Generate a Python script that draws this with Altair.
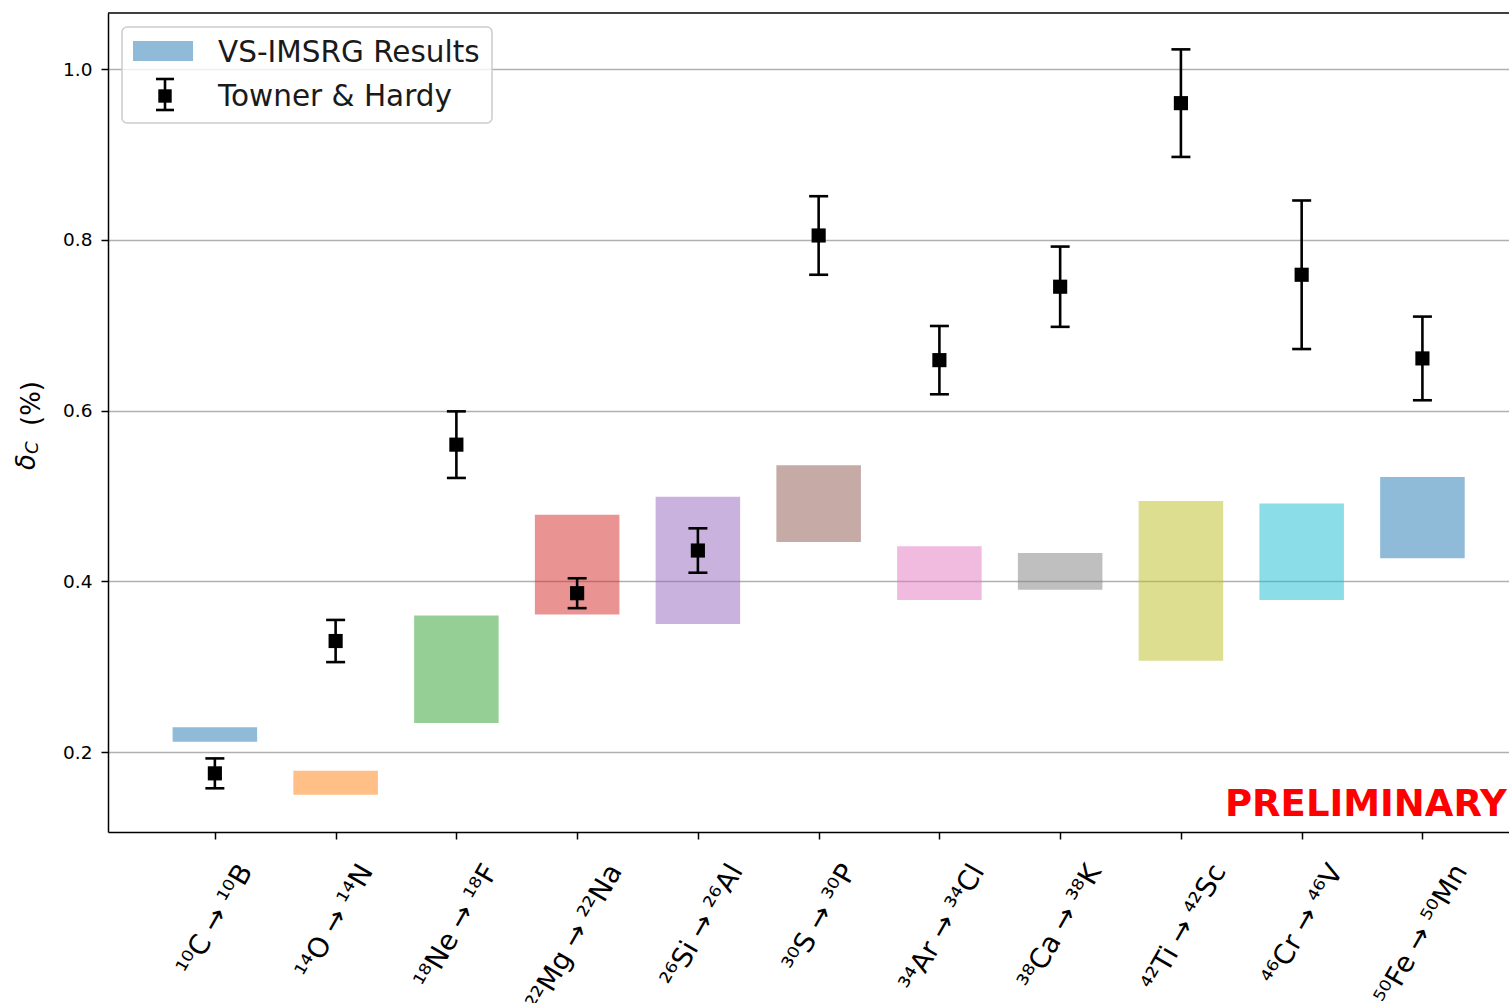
import altair as alt
import pandas as pd

# ---------------- data ----------------
labels = ["¹⁰C → ¹⁰B", "¹⁴O → ¹⁴N", "¹⁸Ne → ¹⁸F", "²²Mg → ²²Na", "²⁶Si → ²⁶Al",
          "³⁰S → ³⁰P", "³⁴Ar → ³⁴Cl", "³⁸Ca → ³⁸K", "⁴²Ti → ⁴²Sc", "⁴⁶Cr → ⁴⁶V",
          "⁵⁰Fe → ⁵⁰Mn"]
imsrg_low = [0.212, 0.150, 0.234, 0.361, 0.350, 0.446, 0.378, 0.390, 0.307, 0.378, 0.427]
imsrg_high = [0.229, 0.178, 0.360, 0.478, 0.499, 0.536, 0.441, 0.433, 0.494, 0.491, 0.522]
th_value = [0.175, 0.330, 0.560, 0.386, 0.436, 0.805, 0.659, 0.745, 0.960, 0.759, 0.661]
th_err = [0.0175, 0.0247, 0.039, 0.0175, 0.026, 0.046, 0.040, 0.047, 0.063, 0.087, 0.049]
colors = ["#1f77b4", "#ff7f0e", "#2ca02c", "#d62728", "#9467bd", "#8c564b",
          "#e377c2", "#7f7f7f", "#bcbd22", "#17becf", "#1f77b4"]
y_ticks = [0.2, 0.4, 0.6, 0.8, 1.0]
legend_labels = ["VS-IMSRG Results", "Towner & Hardy"]
y_title = ["δ", "C", "(%)"]
stamp = "PRELIMINARY"

df = pd.DataFrame({
    "idx": list(range(len(labels))),
    "label": labels,
    "lo": imsrg_low,
    "hi": imsrg_high,
    "val": th_value,
    "err": th_err,
})

W, H = 1401, 819
FONT = "DejaVu Sans"

x_scale = alt.Scale(domain=[-0.885, 10.717], nice=False, zero=False)
y_scale = alt.Scale(domain=[0.1063, 1.0656], nice=False, zero=False)

x_axis = alt.Axis(values=list(range(len(labels))), labels=False, ticks=True, tickSize=7,
                  tickWidth=1.5, tickColor="black", domainColor="black", domainWidth=1.5,
                  grid=False, title=None)
y_axis = alt.Axis(values=y_ticks, format=".1f", labelFont=FONT, labelFontSize=18.5,
                  labelColor="black", labelPadding=9, tickSize=7, tickWidth=1.5,
                  tickColor="black", domainColor="black", domainWidth=1.5, grid=True,
                  gridColor="#b0b0b0", gridWidth=1.5, title=None)

base = alt.Chart(df)

bars = base.mark_rect(opacity=0.5).transform_calculate(
    x0="datum.idx - 0.35", x1="datum.idx + 0.35"
).encode(
    x=alt.X("x0:Q", scale=x_scale, axis=x_axis),
    x2="x1:Q",
    y=alt.Y("lo:Q", scale=y_scale, axis=y_axis),
    y2="hi:Q",
    color=alt.Color("label:N", scale=alt.Scale(domain=labels, range=colors), legend=None),
)

eb = base.transform_calculate(
    elo="datum.val - datum.err", ehi="datum.val + datum.err"
)
err_rule = eb.mark_rule(color="black", strokeWidth=2.6).encode(
    x=alt.X("idx:Q", scale=x_scale, axis=x_axis),
    y=alt.Y("elo:Q", scale=y_scale, axis=y_axis),
    y2="ehi:Q",
)
cap_lo = eb.mark_tick(color="black", orient="horizontal", size=19, thickness=2.6, opacity=1).encode(
    x=alt.X("idx:Q", scale=x_scale, axis=x_axis),
    y=alt.Y("elo:Q", scale=y_scale, axis=y_axis),
)
cap_hi = eb.mark_tick(color="black", orient="horizontal", size=19, thickness=2.6, opacity=1).encode(
    x=alt.X("idx:Q", scale=x_scale, axis=x_axis),
    y=alt.Y("ehi:Q", scale=y_scale, axis=y_axis),
)
points = base.mark_square(color="black", size=200, opacity=1).encode(
    x=alt.X("idx:Q", scale=x_scale, axis=x_axis),
    y=alt.Y("val:Q", scale=y_scale, axis=y_axis),
)

# rotated x tick labels (matplotlib-like centred rotated labels)
xlabels = base.mark_text(angle=300, align="right", baseline="middle", fontSize=27.5,
                         font=FONT, color="black").transform_calculate(
    xl="datum.idx + (3.7*length(datum.label) - 2)/120.75"
).encode(
    x=alt.X("xl:Q", scale=x_scale, axis=x_axis),
    y=alt.value(H + 35),
    text="label:N",
)

one = alt.Chart(pd.DataFrame({"a": [0]}))

top_spine = one.mark_rule(color="black", strokeWidth=1.5).encode(
    x=alt.value(0), x2=alt.value(W), y=alt.value(0)
)

# y title: delta_C (%)
yt_delta = alt.Chart(pd.DataFrame({"t": [y_title[0]]})).mark_text(
    angle=270, align="left", baseline="alphabetic", fontSize=26, font=FONT,
    fontStyle="italic", color="black"
).encode(x=alt.value(-73), y=alt.value(457), text="t:N")
yt_sub = alt.Chart(pd.DataFrame({"t": [y_title[1]]})).mark_text(
    angle=270, align="left", baseline="alphabetic", fontSize=18, font=FONT,
    fontStyle="italic", color="black"
).encode(x=alt.value(-70), y=alt.value(441), text="t:N")
yt_pct = alt.Chart(pd.DataFrame({"t": [y_title[2]]})).mark_text(
    angle=270, align="left", baseline="alphabetic", fontSize=26, font=FONT, color="black"
).encode(x=alt.value(-68), y=alt.value(413), text="t:N")

# legend
leg_box = one.mark_rect(fill="white", fillOpacity=0.8, stroke="#cccccc", strokeWidth=1.5,
                        cornerRadius=5).encode(
    x=alt.value(14), x2=alt.value(384), y=alt.value(14), y2=alt.value(110)
)
leg_patch = one.mark_rect(color="#1f77b4", opacity=0.5).encode(
    x=alt.value(25), x2=alt.value(85), y=alt.value(28), y2=alt.value(48)
)
leg_rule = one.mark_rule(color="black", strokeWidth=2.6).encode(
    x=alt.value(57), y=alt.value(66), y2=alt.value(97)
)
leg_cap1 = one.mark_rule(color="black", strokeWidth=2.6).encode(
    x=alt.value(48), x2=alt.value(66), y=alt.value(66)
)
leg_cap2 = one.mark_rule(color="black", strokeWidth=2.6).encode(
    x=alt.value(48), x2=alt.value(66), y=alt.value(97)
)
leg_sq = one.mark_square(color="black", size=180, opacity=1).encode(
    x=alt.value(57), y=alt.value(83)
)
leg_t1 = alt.Chart(pd.DataFrame({"t": [legend_labels[0]]})).mark_text(
    align="left", baseline="alphabetic", fontSize=29.5, font=FONT, color="#1a1a1a"
).encode(x=alt.value(110), y=alt.value(49), text="t:N")
leg_t2 = alt.Chart(pd.DataFrame({"t": [legend_labels[1]]})).mark_text(
    align="left", baseline="alphabetic", fontSize=29.5, font=FONT, color="#1a1a1a"
).encode(x=alt.value(110), y=alt.value(93), text="t:N")

prelim = alt.Chart(pd.DataFrame({"t": [stamp]})).mark_text(
    align="left", baseline="alphabetic", fontSize=37, font=FONT, fontWeight="bold",
    color="#ff0000"
).encode(x=alt.value(1117), y=alt.value(803), text="t:N")

chart = alt.layer(
    bars, err_rule, cap_lo, cap_hi, points, xlabels, top_spine,
    yt_delta, yt_sub, yt_pct,
    leg_box, leg_patch, leg_rule, leg_cap1, leg_cap2, leg_sq, leg_t1, leg_t2,
    prelim,
).properties(
    width=W, height=H,
    padding={"left": 108, "top": 13, "right": 0, "bottom": 171},
    autosize=alt.AutoSizeParams(type="none"),
    background="white",
).configure_view(stroke=None)

chart.save("out.html", embed_options={"renderer": "svg", "actions": False})
